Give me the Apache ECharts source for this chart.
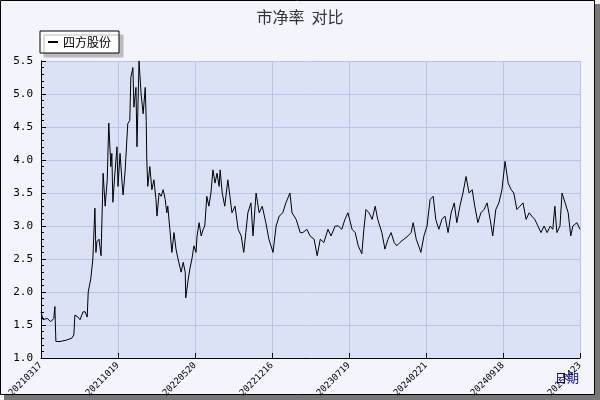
<!DOCTYPE html>
<html><head><meta charset="utf-8">
<script src="https://cdn.jsdelivr.net/npm/echarts@6/dist/echarts.min.js"></script>
<style>html,body{margin:0;padding:0;background:#fff}#c{width:600px;height:400px}</style>
</head><body><div id="c"></div>
<script>
var tickLabels=["20210317","20211019","20220520","20221216","20230719","20240221","20240918","20250423"];
var days=[0,4,12,19,25,27,29,37,49,60,64,66,72,76,82,86,90,92,97,101,105,107,109,113,117,121,125,129,132,136,138,140,144,148,150,154,158,160,164,169,173,175,179,181,185,187,191,195,199,203,205,206,208,212,216,220,224,226,230,234,238,242,245,247,251,255,259,263,267,273,277,281,282,286,290,294,298,302,304,308,312,316,319,323,327,331,335,339,343,347,349,353,358,364,368,372,378,384,390,395,399,403,409,413,419,425,431,438,444,452,458,464,471,477,485,489,497,505,510,518,524,532,538,544,551,559,565,573,579,586,592,598,606,612,618,625,629,633,639,645,651,656,664,670,676,682,688,693,699,707,715,721,725,731,738,740,746,752,758,764,769,775,781,787,793,799,805,810,816,822,828,834,840,845,851,857,863,869,875,880,886,892,898,904,910,916,921,927,933,939,945,951,956,962,968,974,980,986,992,997,1001,1005,1011,1015,1021,1027,1032,1036,1044,1050];
var pb=[1.7,1.58,1.6,1.55,1.6,1.78,1.25,1.25,1.27,1.3,1.35,1.65,1.62,1.58,1.7,1.7,1.62,2.0,2.2,2.5,3.27,2.6,2.76,2.8,2.55,3.8,3.3,3.7,4.56,3.9,4.1,3.36,3.8,4.2,3.6,4.1,3.65,3.47,3.85,4.55,4.6,5.25,5.4,4.8,5.1,4.2,5.5,5.0,4.7,5.1,4.6,4.03,3.6,3.9,3.55,3.7,3.4,3.15,3.5,3.45,3.55,3.4,3.2,3.3,2.95,2.6,2.9,2.65,2.5,2.3,2.45,2.3,1.91,2.15,2.35,2.5,2.7,2.6,2.85,3.05,2.85,2.95,3.0,3.45,3.3,3.5,3.85,3.65,3.8,3.6,3.85,3.5,3.3,3.7,3.45,3.2,3.3,2.95,2.85,2.6,2.9,3.2,3.35,2.85,3.5,3.2,3.3,3.05,2.8,2.6,3.0,3.15,3.2,3.35,3.5,3.2,3.1,2.9,2.9,2.95,2.85,2.8,2.55,2.8,2.75,2.95,2.85,3.0,3.0,2.95,3.1,3.2,2.95,2.9,2.7,2.58,2.95,3.25,3.2,3.1,3.3,3.1,2.9,2.65,2.8,2.9,2.75,2.7,2.75,2.8,2.85,2.9,3.05,2.8,2.65,2.6,2.85,3.0,3.4,3.45,3.1,2.95,3.1,3.15,2.9,3.2,3.35,3.05,3.3,3.5,3.75,3.5,3.55,3.3,3.05,3.2,3.25,3.35,3.1,2.85,3.25,3.35,3.55,3.98,3.65,3.55,3.5,3.25,3.3,3.35,3.1,3.2,3.15,3.1,3.0,2.9,3.0,2.9,3.0,2.95,3.3,2.9,3.0,3.5,3.35,3.2,2.85,3.0,3.05,2.95];
var seriesName="四方股份";
var data=days.map(function(d,i){return [d,pb[i]];});
var ch=echarts.init(document.getElementById('c'));
var f='"DejaVu Sans Mono", monospace';
ch.setOption({
 animation:false,
 backgroundColor:'#F4F4FC',
 title:{text:'市净率  对比',left:'center',top:4,textStyle:{fontSize:16,fontWeight:'normal',color:'#333',fontFamily:'"Noto Sans CJK SC"'}},
 legend:{left:40,top:31,itemWidth:10,itemHeight:2,icon:'rect',padding:[5,8],backgroundColor:'#fff',borderColor:'#000',borderWidth:1,borderRadius:0,shadowColor:'#bbb',shadowOffsetX:4,shadowOffsetY:4,textStyle:{fontSize:12,color:'#000',fontFamily:'"Noto Sans CJK SC"'},data:[seriesName]},
 grid:{left:41,right:20,top:61,bottom:42,show:true,backgroundColor:'#DCE2F6',borderWidth:0},
 xAxis:{type:'value',min:0,max:1050,interval:150,
  axisLine:{lineStyle:{color:'#000'}},axisTick:{inside:true,length:5,lineStyle:{color:'#000'}},
  splitLine:{show:true,lineStyle:{color:'#B8C4E8'}},
  axisLabel:{rotate:45,fontSize:9,color:'#000',fontFamily:f,margin:6,formatter:function(v){return tickLabels[Math.round(v/150)]||'';}}},
 yAxis:{type:'value',min:1,max:5.5,interval:0.5,
  axisLine:{show:true,lineStyle:{color:'#000'}},axisTick:{inside:true,length:5,lineStyle:{color:'#000'}},
  minorTick:{show:true,splitNumber:5,length:3,lineStyle:{color:'#000'}},
  splitLine:{show:true,lineStyle:{color:'#B8C4E8'}},
  axisLabel:{fontSize:11,color:'#000',fontFamily:f,formatter:function(v){return v.toFixed(1);}}},
 graphic:[
  {type:'rect',shape:{x:4,y:4,width:596,height:396},style:{fill:'#777'},z:-10},
  {type:'rect',shape:{x:0.5,y:0.5,width:594,height:394},style:{fill:'#F4F4FC',stroke:'#000',lineWidth:1},z:-9},
  {type:'text',left:555,top:372,style:{text:'日期',fill:'#0000CC',fontSize:12,fontFamily:'"Noto Sans CJK SC"'}}
 ],
 series:[{name:seriesName,type:'line',data:data,showSymbol:false,lineStyle:{color:'#000',width:1},itemStyle:{color:'#000'}}]
});
</script></body></html>
